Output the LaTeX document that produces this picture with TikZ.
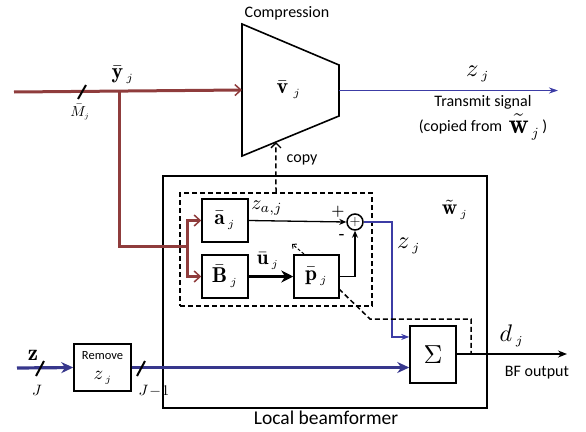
\documentclass[tikz,border=0pt]{standalone}
\usepackage{amsmath}
\usepackage{graphicx}
\usepackage{fontspec}
\setsansfont{Carlito}
\usetikzlibrary{arrows.meta,calc}
\definecolor{rline}{RGB}{143,60,60}
\definecolor{bthick}{RGB}{55,55,140}
\definecolor{bthin}{RGB}{60,60,165}
\newcommand\sjx{{\scriptscriptstyle j}}
\newcommand\mth[2]{\scalebox{#1}{$#2$}}
\tikzset{
  blk/.style={draw,line width=1.5pt,minimum width=46pt,minimum height=43pt,inner sep=0pt},
  redln/.style={draw=rline,line width=3pt},
  bluethick/.style={draw=bthick,line width=3.2pt},
  bluethin/.style={draw=bthin,line width=1.3pt},
  thinarr/.style={line width=1.3pt,-{Stealth[length=7pt,width=6pt]}},
  dsh/.style={line width=1.5pt,dash pattern=on 5pt off 3pt},
  sflab/.style={font=\sffamily\fontsize{16}{18}\selectfont,inner sep=0pt},
  mlab/.style={inner sep=0pt},
  slash/.style={line width=2pt,draw=black}
}
\begin{document}
\begin{tikzpicture}[x=1pt,y=-1pt]
\useasboundingbox (0,0) rectangle (586,431);
% compression trapezoid
\coordinate (t1) at (242,24);
\coordinate (t2) at (339,65);
\coordinate (t3) at (339,116);
\coordinate (t4) at (242,156);
\draw[line width=1.6pt] (t1)--(t2)--(t3)--(t4)--cycle;
\node[mlab] (vlab) at (289,90) {\mth{2.2}{\bar{\mathbf{v}}_{\;\sjx}}};
\node[sflab] (comp) at (287,13) {Compression};
\coordinate (tin) at ($(t1)!0.5!(t4)$);
\coordinate (tout) at ($(t2)!0.5!(t3)$);
\coordinate (tcopy) at ($(t4)!0.35!(t3)$);
% outer and dashed boxes
\node[draw,line width=1.5pt,minimum width=324pt,minimum height=232pt,inner sep=0pt] (outer) at (325,292) {};
\node[dsh,draw,minimum width=192pt,minimum height=113pt,inner sep=0pt] (dbox) at (276,249.5) {};
\node[font=\sffamily\fontsize{19.5}{22}\selectfont,inner sep=0pt] (lbf) at (326,418) {Local beamformer};
% inner blocks
\node[blk] (a) at (225,220.5) {\mth{2.15}{\bar{\mathbf{a}}_{\,\sjx}}};
\node[blk] (B) at (225,276.5) {\mth{2.15}{\bar{\mathbf{B}}_{\,\sjx}}};
\node[blk,minimum width=45pt] (p) at (316.5,276.5) {\mth{2.15}{\bar{\mathbf{p}}_{\,\sjx}}};
\node[draw,circle,line width=1.5pt,minimum size=16pt,inner sep=0pt] (sum) at (355,222) {\mth{1.4}{+}};
\node[blk,minimum height=57pt] (S) at (433,354.5) {\mth{2.6}{\Sigma}};
\node[draw,line width=1.5pt,minimum width=57pt,minimum height=47pt,inner sep=0pt] (R) at (102.5,367.5) {};
\node[font=\sffamily\fontsize{12.5}{14}\selectfont,inner sep=0pt] (rem) at (102.5,356) {Remove};
\node[mlab] (rz) at (103,378) {\mth{1.9}{z_{\,\sjx}}};
% red input
\coordinate (yin) at (14,92);
\coordinate (br) at (119,92);
\coordinate (br2) at (119,246);
\coordinate (br3) at (187,246);
\draw[redln,-{Straight Barb[length=6pt,width=11pt,line width=1.5pt]}] (yin) -- (tin);
\draw[redln] (br) -- (br2) -- (br3);
\draw[redln,-{Straight Barb[length=6pt,width=11pt,line width=1.5pt]}] (br3) |- (a.west);
\draw[redln,-{Straight Barb[length=6pt,width=11pt,line width=1.5pt]}] (br3) |- (B.west);
\draw[slash] (78,99) -- (86,85);
\node[mlab] (Mlab) at (80,112) {\mth{1.45}{\bar{M}_{\sjx}}};
\node[mlab] (ylab) at (123,75) {\mth{2.2}{\bar{\mathbf{y}}_{\,\sjx}}};
% copy
\draw[dsh,-{Straight Barb[length=5pt,width=10pt,line width=1.3pt]}] (dbox.north) -- (tcopy);
\node[sflab] (copy) at (302,160) {copy};
% top output
\coordinate (zout) at (558,90.5);
\draw[bluethin,-{Stealth[length=9pt,width=6pt]}] (tout) -- (zout);
\node[mlab] (ztop) at (478,74) {\mth{2.45}{z_{\,\sjx}}};
\node[sflab,align=center] (tx) at (483,118) {Transmit signal\\[3pt](copied from \,\raisebox{-2pt}{\mth{1.75}{\tilde{\mathbf{w}}_{\,\sjx}}}\,)};
% inner signal flow
\draw[thinarr] (a.east) -- (sum.west);
\node[mlab] (zaj) at (267,208) {\mth{2.0}{z_{a,j}}};
\node[font=\bfseries\fontsize{15}{16}\selectfont,inner sep=0pt] (plus) at (338,212) {+};
\node[font=\bfseries\fontsize{15}{16}\selectfont,inner sep=0pt] (minus) at (342,236) {-};
\draw[line width=3.5pt,-{Stealth[length=12pt,width=12pt]}] (B.east) -- (p.west);
\node[mlab] (ulab) at (268,261) {\mth{2.1}{\bar{\mathbf{u}}_{\,\sjx}}};
\draw[thinarr] (p.east) -| (sum.south);
\coordinate (pa1) at (304,254);
\coordinate (pa2) at (292,244);
\draw[line width=1pt,dash pattern=on 3pt off 2pt,-{Straight Barb[length=3pt,width=6pt]}] (pa1) -- (pa2);
% z_j to sum
\coordinate (zc1) at (392,222);
\coordinate (Sin1) at ($(S.north west)!0.2!(S.south west)$);
\draw[bluethin,-{Stealth[length=8pt,width=6pt]}] (sum.east) -- (zc1) |- (Sin1);
\node[mlab] (zmid) at (409,246) {\mth{2.45}{z_{\,\sjx}}};
\node[mlab] (wlab) at (455,210) {\mth{2.15}{\tilde{\mathbf{w}}_{\,\sjx}}};
% output
\coordinate (dout) at (567,354);
\draw[line width=1.5pt,-{Stealth[length=9pt,width=7pt]}] (S.east |- dout) -- (dout);
\node[mlab] (dlab) at (512,336) {\mth{2.4}{d_{\,\sjx}}};
\node[sflab] (bfo) at (537,373) {BF output};
% dashed feedback
\coordinate (f1) at (339,289);
\coordinate (f2) at (370,319);
\coordinate (f3) at (471,319);
\coordinate (f4) at (471,354);
\draw[dsh] (f1) -- (f2) -- (f3) -- (f4);
% bottom blue
\coordinate (zin) at (17,368);
\draw[bluethick,-{Stealth[length=12pt,width=11pt]}] (zin) -- (R.west);
\draw[bluethick,-{Stealth[length=12pt,width=11pt]}] (R.east) -- (R.east -| S.west);
\draw[slash] (36,376) -- (44,361);
\draw[slash] (137,376) -- (145,361);
\node[mlab] (zb) at (33,355) {\mth{2.3}{\mathbf{z}}};
\node[mlab] (Jl) at (37,390) {\mth{1.5}{J}};
\node[mlab] (J1) at (154,391) {\mth{1.5}{J\!-\!1}};
\end{tikzpicture}
\end{document}
